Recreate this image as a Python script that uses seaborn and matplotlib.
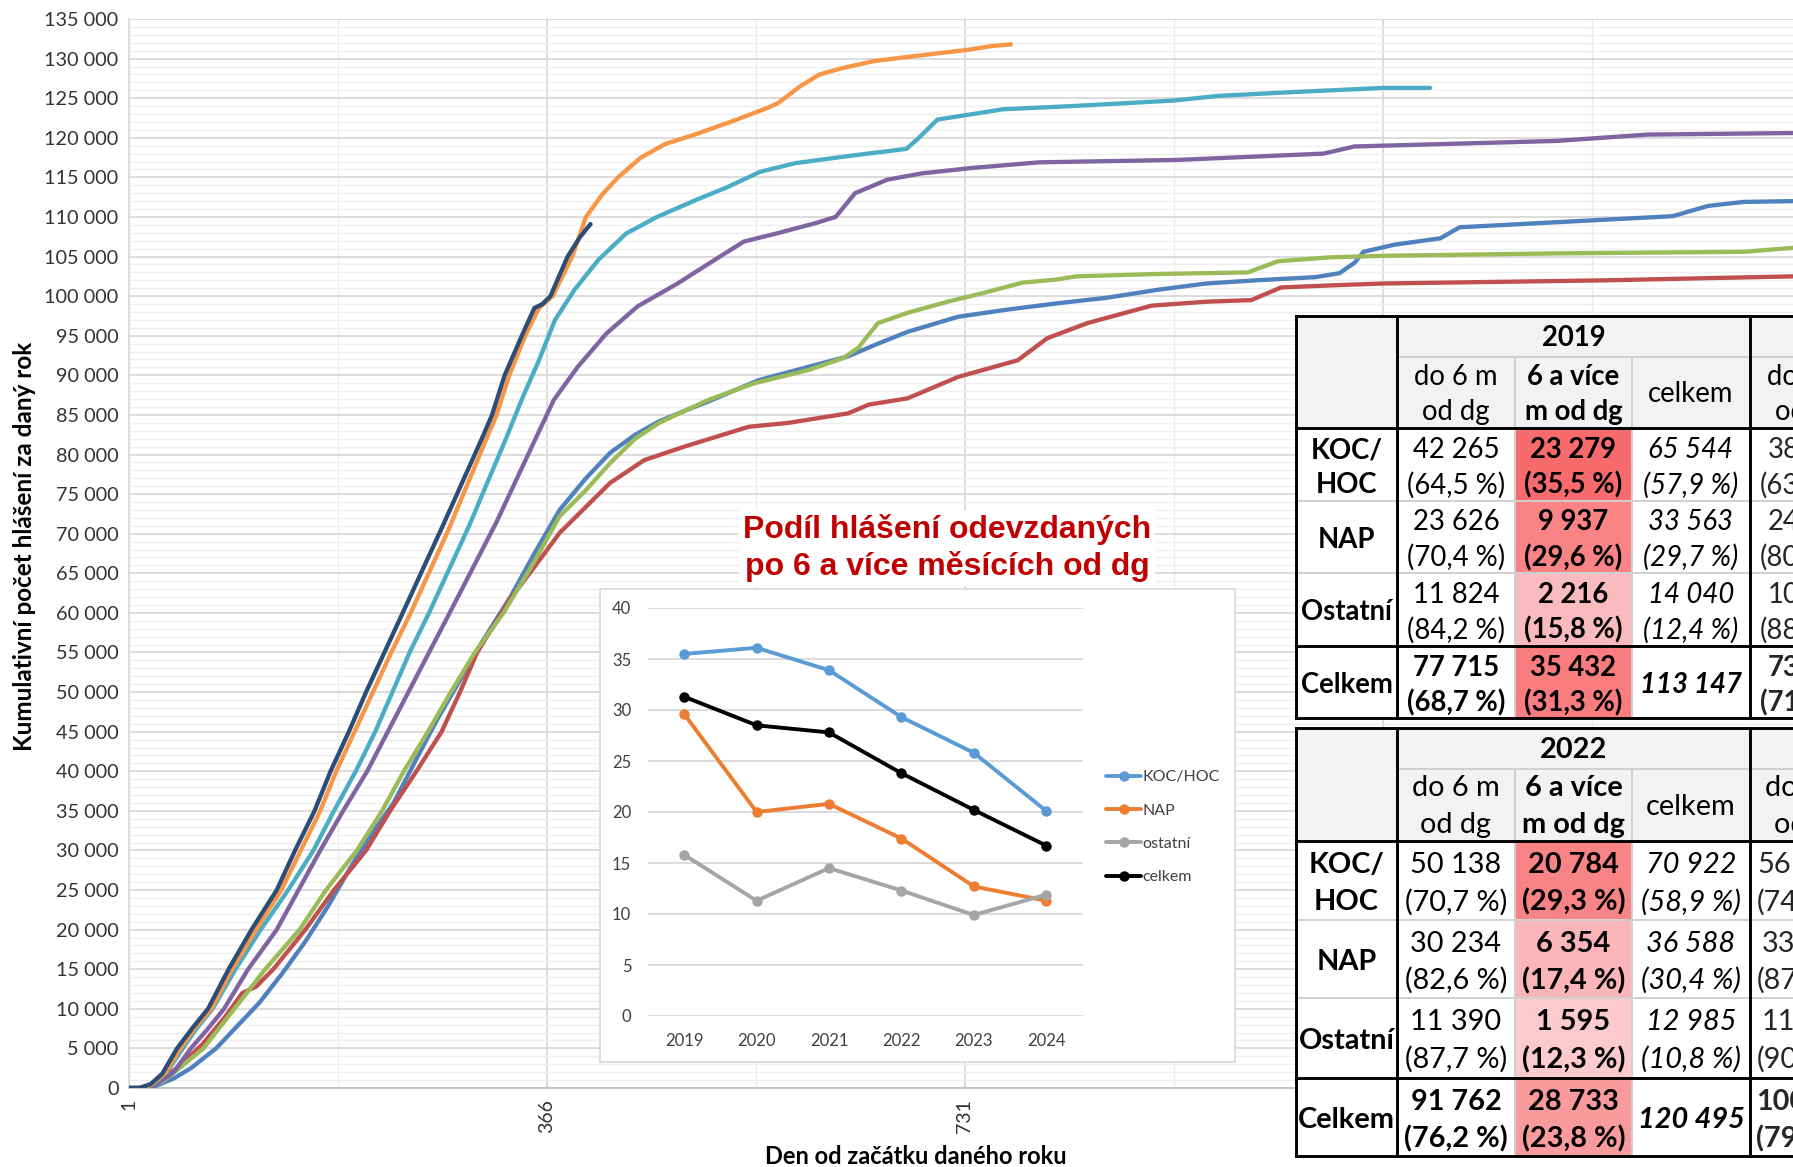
import numpy as np
import pandas as pd
import matplotlib
matplotlib.use("Agg")
import matplotlib.pyplot as plt
import seaborn as sns
from matplotlib.ticker import FuncFormatter, FixedLocator, MultipleLocator
from matplotlib.patches import Rectangle
from matplotlib.colors import LinearSegmentedColormap, Normalize

# ---------------- main chart data (day of year -> cumulative reports) ----------------
days_2018 = [1, 15, 25, 40, 55, 77, 100, 115, 135, 155, 175, 195, 215, 232, 250, 270, 290, 310, 334, 355, 377, 400,
             421, 443, 464, 486, 507, 551, 595, 629, 655, 681, 725, 768, 812, 855, 899, 942, 985, 1037, 1058, 1071,
             1079, 1106, 1146, 1163, 1203, 1256, 1349, 1380, 1411, 1454]
vals_2018 = [0, 0, 300, 1200, 2500, 5000, 8500, 10800, 14500, 18500, 23000, 28000, 32500, 36000, 41000, 46500, 51500,
             56500, 62000, 67500, 73000, 77000, 80200, 82500, 84200, 85500, 86700, 89400, 91100, 92400, 94000, 95500,
             97400, 98300, 99100, 99800, 100800, 101600, 102000, 102400, 102900, 104200, 105600, 106500, 107300,
             108700, 109000, 109400, 110100, 111400, 111900, 112000]

days_2019 = [1, 12, 25, 45, 65, 85, 100, 112, 127, 155, 180, 208, 229, 252, 274, 290, 305, 333, 356, 377, 421, 451,
             486, 542, 577, 629, 647, 681, 725, 777, 803, 838, 894, 942, 981, 1007, 1058, 1097, 1291, 1454]
vals_2019 = [0, 0, 500, 2800, 5500, 9000, 12000, 12800, 15000, 20000, 25000, 30000, 35000, 40000, 45000, 50000, 55000,
             61600, 66000, 70100, 76400, 79300, 81000, 83500, 84000, 85200, 86300, 87100, 89800, 91900, 94700, 96600,
             98800, 99300, 99500, 101100, 101400, 101600, 102000, 102500]

days_2020 = [1, 12, 30, 45, 66, 93, 120, 150, 173, 200, 222, 241, 262, 282, 303, 328, 353, 377, 400, 421, 443, 464,
             486, 507, 547, 595, 625, 638, 655, 681, 716, 747, 781, 811, 828, 899, 978, 1004, 1049, 1097, 1247, 1411,
             1454]
vals_2020 = [0, 0, 800, 2500, 5000, 10000, 15000, 20000, 25000, 30000, 35000, 40000, 45000, 50000, 55000, 60000,
             66000, 72200, 75500, 78900, 82000, 84000, 85500, 86900, 89000, 90700, 92200, 93500, 96600, 97900, 99300,
             100400, 101700, 102100, 102500, 102800, 103000, 104400, 104900, 105100, 105400, 105600, 106100]

days_2021 = [1, 12, 25, 40, 55, 70, 84, 105, 130, 149, 168, 188, 209, 227, 245, 263, 281, 322, 357, 372, 393, 418,
             445, 480, 517, 538, 566, 600, 618, 635, 663, 693, 738, 796, 916, 1044, 1071, 1247, 1327, 1454]
vals_2021 = [0, 0, 500, 2000, 5000, 7500, 10000, 15000, 20000, 25000, 30000, 35000, 40000, 45000, 50000, 55000,
             60000, 71500, 82300, 86900, 91100, 95300, 98700, 101600, 105000, 106900, 107900, 109200, 110000, 113000,
             114700, 115500, 116200, 116900, 117200, 118000, 118900, 119600, 120400, 120600]

days_2022 = [1, 12, 22, 34, 48, 60, 74, 94, 116, 140, 162, 180, 199, 216, 231, 246, 263, 298, 331, 345, 359, 373,
             390, 411, 435, 462, 497, 524, 552, 583, 635, 680, 690, 707, 738, 764, 824, 913, 953, 1022, 1097, 1137]
vals_2022 = [0, 0, 500, 2000, 5000, 7500, 10000, 15000, 20000, 25000, 30000, 35000, 40000, 45000, 50000, 55000,
             60000, 71000, 82300, 87300, 91900, 97000, 100800, 104600, 107900, 110000, 112200, 113800, 115700,
             116800, 117800, 118600, 119900, 122300, 123000, 123600, 124000, 124700, 125300, 125800, 126300, 126300]

days_2023 = [1, 10, 20, 32, 46, 58, 73, 91, 112, 134, 151, 168, 182, 198, 214, 230, 247, 280, 314, 322, 333, 347,
             359, 371, 388, 400, 414, 428, 448, 469, 497, 528, 559, 568, 587, 604, 624, 652, 686, 733, 755, 771]
vals_2023 = [0, 0, 400, 1800, 5000, 7500, 10000, 15000, 20000, 25000, 30000, 35000, 40000, 45000, 50000, 55000,
             60000, 70500, 82300, 85000, 90000, 95000, 98500, 100000, 105000, 110000, 112800, 115000, 117500, 119200,
             120500, 122100, 123800, 124400, 126500, 128000, 128800, 129700, 130300, 131100, 131600, 131800]

days_2024 = [1, 10, 20, 30, 43, 56, 70, 88, 108, 130, 146, 163, 177, 193, 208, 224, 240, 275, 310, 318, 329, 344,
             355, 362, 369, 384, 395, 404]
vals_2024 = [0, 0, 500, 1800, 5000, 7500, 10000, 15000, 20000, 25000, 30000, 35000, 40000, 45000, 50000, 55000,
             60000, 71000, 82300, 85000, 90000, 95000, 98500, 99000, 100000, 105000, 107500, 109100]

main_series = {"2018": (days_2018, vals_2018), "2019": (days_2019, vals_2019), "2020": (days_2020, vals_2020),
               "2021": (days_2021, vals_2021), "2022": (days_2022, vals_2022), "2023": (days_2023, vals_2023),
               "2024": (days_2024, vals_2024)}
main_colors = {"2018": "#4F81BD", "2019": "#C0504D", "2020": "#9BBB59", "2021": "#8064A2",
               "2022": "#4BACC6", "2023": "#F79646", "2024": "#2C4D75"}
x_tick_days = [1, 366, 731, 1096, 1461]
x_tick_labels = ["1", "366", "731", "", ""]   # later labels are hidden behind the tables

# ---------------- inset data ----------------
inset_years = ["2019", "2020", "2021", "2022", "2023", "2024"]
share_koc = [35.5, 36.1, 33.9, 29.3, 25.8, 20.1]
share_nap = [29.6, 20.0, 20.8, 17.4, 12.7, 11.3]
share_ost = [15.8, 11.3, 14.5, 12.3, 9.9, 11.9]
share_cel = [31.3, 28.5, 27.8, 23.8, 20.2, 16.7]
inset_labels = ["KOC/HOC", "NAP", "ostatní", "celkem"]
inset_colors = ["#5B9BD5", "#ED7D31", "#A5A5A5", "#000000"]

# ---------------- table data ----------------
row_labels = [["KOC/", "HOC"], ["NAP"], ["Ostatní"], ["Celkem"]]
t2019_do6 = [42265, 23626, 11824, 77715]
t2019_do6_pct = [64.5, 70.4, 84.2, 68.7]
t2019_po6 = [23279, 9937, 2216, 35432]
t2019_po6_pct = [35.5, 29.6, 15.8, 31.3]
t2019_cel = [65544, 33563, 14040, 113147]
t2019_cel_pct = [57.9, 29.7, 12.4, None]
t2022_do6 = [50138, 30234, 11390, 91762]
t2022_do6_pct = [70.7, 82.6, 87.7, 76.2]
t2022_po6 = [20784, 6354, 1595, 28733]
t2022_po6_pct = [29.3, 17.4, 12.3, 23.8]
t2022_cel = [70922, 36588, 12985, 120495]
t2022_cel_pct = [58.9, 30.4, 10.8, None]
# visible fragments of the next (cut-off) year column
t2020_frag = [["38", "(63"], ["24", "(80"], ["10", "(88"], ["73", "(71"]]
t2023_frag = [["56", "(74"], ["33", "(87"], ["11", "(90"], ["100", "(79"]]

# ---------------- figure ----------------
sns.set_theme(style="white")
plt.rcParams["font.family"] = ["Lato", "DejaVu Sans"]
W, H, DPI = 1793, 1167, 100
fig = plt.figure(figsize=(W / DPI, H / DPI), dpi=DPI)
fig.patch.set_facecolor("white")


def fx(px):
    return px / W


def fy(py):
    return 1 - py / H


X0, XR, Y0, YT = 129, 1793, 1088, 19
ax = fig.add_axes([fx(X0), fy(Y0), (XR - X0) / W, (Y0 - YT) / H])
ax.set_zorder(1)
xmax = 1 + (XR - X0) * 365 / 418
ax.set_xlim(1, xmax)
ax.set_ylim(0, 135000)

rows = []
for yr, (d, v) in main_series.items():
    for di, vi in zip(d, v):
        rows.append({"year": yr, "day": di, "value": vi})
df_main = pd.DataFrame(rows)
for yr in main_series:
    sns.lineplot(data=df_main[df_main.year == yr], x="day", y="value", color=main_colors[yr], lw=3.1,
                 sort=False, estimator=None, ax=ax, legend=False, zorder=3)

ax.yaxis.set_major_locator(MultipleLocator(5000))
ax.yaxis.set_minor_locator(MultipleLocator(1000))
ax.xaxis.set_major_locator(FixedLocator(x_tick_days))
ax.xaxis.set_minor_locator(FixedLocator([(a + b) / 2 for a, b in zip(x_tick_days[:-1], x_tick_days[1:])]))
ax.set_xticklabels(x_tick_labels)
ax.yaxis.set_major_formatter(FuncFormatter(lambda v, _: f"{int(v):,}".replace(",", " ")))
ax.grid(which="major", axis="both", color="#D9D9D9", lw=1.3)
ax.grid(which="minor", axis="y", color="#EFEFEF", lw=1.0)
ax.grid(which="minor", axis="x", color="#ECECEC", lw=1.0)
ax.set_axisbelow(True)
ax.tick_params(axis="y", which="both", length=0, pad=7.5, labelsize=14.3, labelcolor="#333333")
ax.tick_params(axis="x", which="both", length=5, width=1, color="#BFBFBF", direction="out",
               pad=3, labelsize=14, labelcolor="#333333", labelrotation=90)
for s in ["top", "right"]:
    ax.spines[s].set_visible(False)
ax.spines["left"].set_color("#D9D9D9")
ax.spines["bottom"].set_color("#BFBFBF")
ax.set_xlabel("")
ax.set_ylabel("")
fig.text(fx(25), fy(546), "Kumulativní počet hlášení za daný rok", rotation=90, ha="center", va="center",
         fontsize=17.5, fontweight="bold", color="#000000")
fig.text(fx(916), fy(1157), "Den od začátku daného roku", ha="center", va="center",
         fontsize=17, fontweight="bold", color="#000000")

# ---------------- overlay: inset box + title ----------------
ov = fig.add_axes([0, 0, 1, 1])
ov.set_zorder(2)
ov.set_xlim(0, W)
ov.set_ylim(H, 0)
ov.axis("off")
ov.patch.set_alpha(0)
ov.add_patch(Rectangle((600, 589), 635, 473, facecolor="white", edgecolor="#D9D9D9", lw=1.2))
ov.text(947, 548, "Podíl hlášení odevzdaných\npo 6 a více měsících od dg", ha="center", va="center",
        color="#C00000", fontsize=23, fontweight="bold", family=["Liberation Sans", "DejaVu Sans"],
        linespacing=1.25, bbox=dict(facecolor="white", edgecolor="none", pad=3))

# ---------------- inset chart ----------------
axi = fig.add_axes([fx(648), fy(1016), fx(1082.5 - 648), (1016 - 608) / H])
axi.set_zorder(3)
axi.patch.set_alpha(0)
ins_rows = []
for lab, vals in zip(inset_labels, [share_koc, share_nap, share_ost, share_cel]):
    for i, v in enumerate(vals):
        ins_rows.append({"series": lab, "idx": i, "value": v})
df_in = pd.DataFrame(ins_rows)
for lab, col in zip(inset_labels, inset_colors):
    sns.lineplot(data=df_in[df_in.series == lab], x="idx", y="value", color=col, lw=2.8, marker="o",
                 markersize=7.5, markeredgewidth=0, sort=False, estimator=None, ax=axi, label=lab, zorder=3)
axi.set_xlim(-0.5, 5.5)
axi.set_ylim(0, 40)
axi.set_yticks(range(0, 41, 5))
axi.set_xticks(range(6))
axi.set_xticklabels(inset_years)
axi.grid(axis="y", color="#D9D9D9", lw=1.3)
axi.grid(axis="x", visible=False)
axi.tick_params(axis="y", length=0, pad=12, labelsize=12, labelcolor="#404040")
axi.tick_params(axis="x", length=0, pad=12, labelsize=12, labelcolor="#404040")
for s in axi.spines.values():
    s.set_visible(False)
axi.set_xlabel("")
axi.set_ylabel("")
axi.legend(loc="upper left", bbox_to_anchor=(fx(1106), fy(770)), bbox_transform=fig.transFigure,
           frameon=False, fontsize=11.5, handlelength=2.2, handletextpad=0.1, labelspacing=1.2,
           borderpad=0, borderaxespad=0, labelcolor="#404040")

# ---------------- tables ----------------
tb = fig.add_axes([0, 0, 1, 1])
tb.set_zorder(4)
tb.set_xlim(0, W)
tb.set_ylim(H, 0)
tb.axis("off")
tb.patch.set_alpha(0)

cmap = LinearSegmentedColormap.from_list("wr", ["#FCFCFF", "#F8696B"])
norm = Normalize(0, 36)
XE = [1296, 1397, 1515, 1632, 1750, 1868]


def fmt_n(n):
    return f"{n:,}".replace(",", " ")


def fmt_p(p):
    return "(" + f"{p:.1f}".replace(".", ",") + " %)"


def draw_table(yedges, year, do6, do6p, po6, po6p, cel, celp, frags, frag_x, fs, dl):
    top, h1, h2 = yedges[0], yedges[1], yedges[2]
    bot = yedges[-1]
    x0, x1, x2, x3, x4, x5 = XE
    tb.add_patch(Rectangle((x0, top), W + 20 - x0, bot - top, facecolor="white", edgecolor="none"))
    tb.add_patch(Rectangle((x0, top), W + 20 - x0, h2 - top, facecolor="#F2F2F2", edgecolor="none"))
    for r in range(4):
        ya, yb = yedges[2 + r], yedges[3 + r]
        tb.add_patch(Rectangle((x2, ya), x3 - x2, yb - ya, facecolor=cmap(norm(po6p[r])), edgecolor="none"))
    thin = dict(color="#D0D0D0", lw=1.4, solid_capstyle="butt")
    tb.plot([x1, W + 20], [h1, h1], **thin)
    for xx in [x2, x3]:
        tb.plot([xx, xx], [h1, bot], **thin)
    for r in [3, 4]:
        tb.plot([x0, W + 20], [yedges[r], yedges[r]], **thin)
    thick = dict(color="black", lw=2.1, solid_capstyle="projecting")
    tb.plot([x0, W + 20], [top, top], **thick)
    tb.plot([x0, W + 20], [bot, bot], **thick)
    tb.plot([x0, W + 20], [h2, h2], **thick)
    tb.plot([x0, W + 20], [yedges[5], yedges[5]], **thick)
    for xx in [x0, x1, x4]:
        tb.plot([xx, xx], [top, bot], **thick)

    tk = dict(ha="center", va="center", fontsize=fs, color="black")
    tb.text((x1 + x4) / 2, (top + h1) / 2 + 2, year, fontweight="bold", **tk)
    hc = (h2 + h1) / 2 + 2
    tb.text((x1 + x2) / 2, hc - dl, "do 6 m", **tk)
    tb.text((x1 + x2) / 2, hc + dl, "od dg", **tk)
    tb.text((x2 + x3) / 2, hc - dl, "6 a více", fontweight="bold", **tk)
    tb.text((x2 + x3) / 2, hc + dl, "m od dg", fontweight="bold", **tk)
    tb.text((x3 + x4) / 2, hc, "celkem", **tk)
    tb.text((x4 + x5) / 2, hc - dl, "do 6 m", **tk)
    tb.text((x4 + x5) / 2, hc + dl, "od dg", **tk)
    for r in range(4):
        yc = (yedges[2 + r] + yedges[3 + r]) / 2 + 3
        lab = row_labels[r]
        if len(lab) == 2:
            tb.text((x0 + x1) / 2, yc - dl, lab[0], fontweight="bold", **tk)
            tb.text((x0 + x1) / 2, yc + dl, lab[1], fontweight="bold", **tk)
        else:
            tb.text((x0 + x1) / 2, yc, lab[0], fontweight="bold", **tk)
        w1 = "bold" if r == 3 else "normal"
        tb.text((x1 + x2) / 2, yc - dl, fmt_n(do6[r]), fontweight=w1, **tk)
        tb.text((x1 + x2) / 2, yc + dl, fmt_p(do6p[r]), fontweight=w1, **tk)
        tb.text((x2 + x3) / 2, yc - dl, fmt_n(po6[r]), fontweight="bold", **tk)
        tb.text((x2 + x3) / 2, yc + dl, fmt_p(po6p[r]), fontweight="bold", **tk)
        if celp[r] is None:
            tb.text((x3 + x4) / 2, yc, fmt_n(cel[r]), fontweight="bold", fontstyle="italic", **tk)
        else:
            tb.text((x3 + x4) / 2, yc - dl, fmt_n(cel[r]), fontstyle="italic", **tk)
            tb.text((x3 + x4) / 2, yc + dl, fmt_p(celp[r]), fontstyle="italic", **tk)
        fw = "bold" if r == 3 else "normal"
        tb.text(frag_x[r][0], yc - dl, frags[r][0], ha="left", va="center", fontsize=fs, fontweight=fw)
        tb.text(frag_x[r][1], yc + dl, frags[r][1], ha="left", va="center", fontsize=fs, fontweight=fw)


draw_table([316, 357, 428, 501, 573, 646, 718], "2019", t2019_do6, t2019_do6_pct, t2019_po6, t2019_po6_pct,
           t2019_cel, t2019_cel_pct, t2020_frag, [[1768, 1760]] * 4, 19.8, 17.5)
draw_table([728, 769, 841, 920, 998, 1078, 1156], "2022", t2022_do6, t2022_do6_pct, t2022_po6, t2022_po6_pct,
           t2022_cel, t2022_cel_pct, t2023_frag, [[1757, 1757], [1762, 1757], [1762, 1757], [1756, 1756]],
           20.8, 18.5)

fig.savefig("out.png", dpi=DPI)
